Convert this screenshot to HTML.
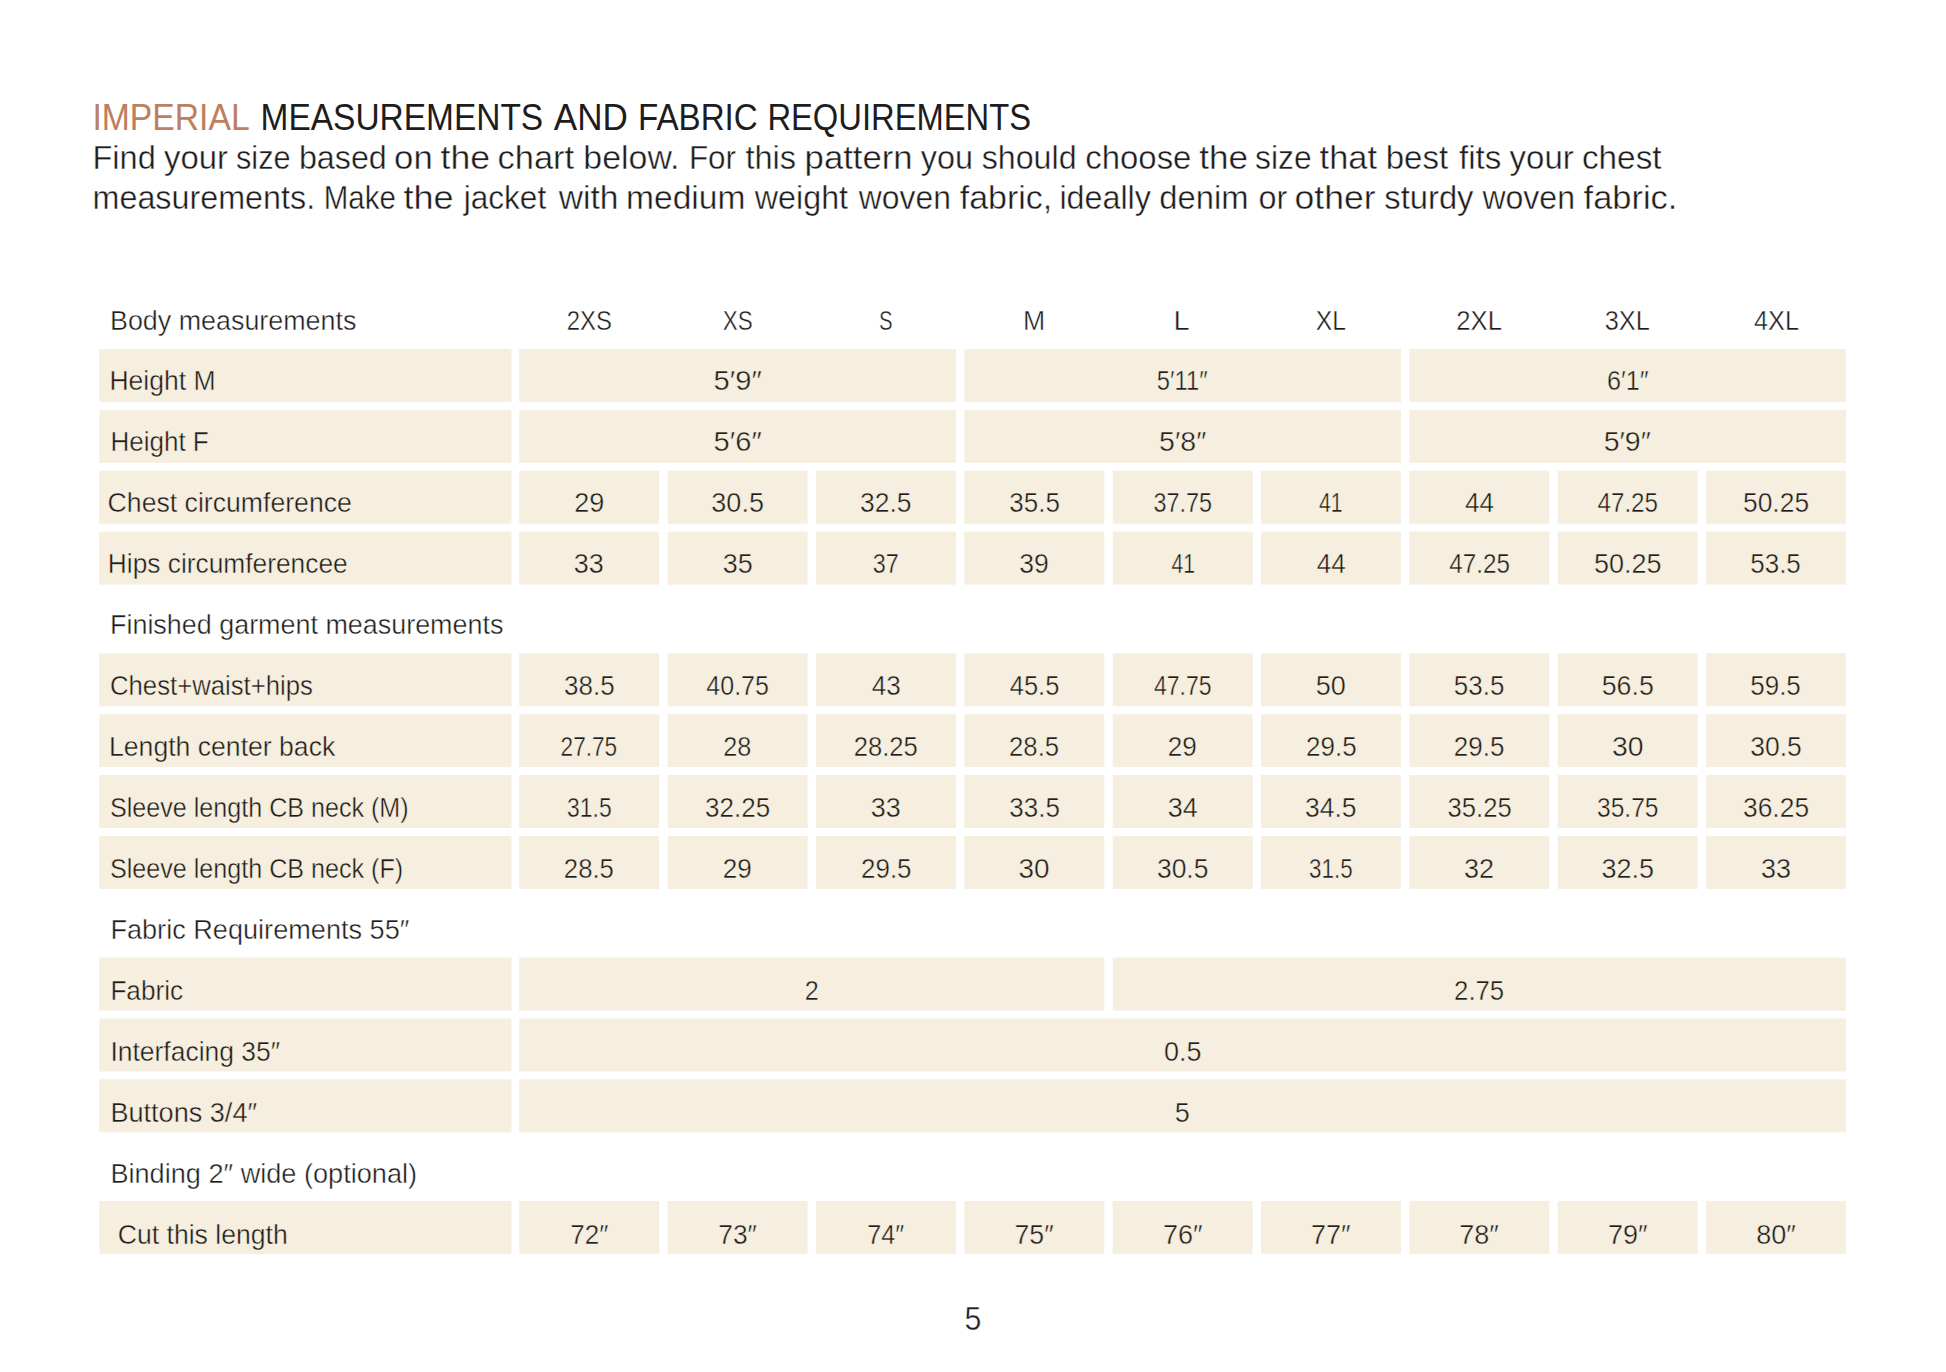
<!DOCTYPE html>
<html><head><meta charset="utf-8"><title>Imperial measurements and fabric requirements</title>
<style>
html,body{margin:0;padding:0;background:#fff;}
body{width:1946px;height:1372px;overflow:hidden;position:relative;}
svg{position:absolute;left:0;top:0;display:block;}
svg text{font-family:'Liberation Sans', Arial, sans-serif;fill:#1E1C1C;}
</style></head><body>
<svg width="1946" height="1372" viewBox="0 0 1946 1372">
<g fill="#F6EEDF">
<rect x="99.30" y="349.00" width="412.10" height="53.00"/>
<rect x="519.30" y="349.00" width="436.63" height="53.00"/>
<rect x="964.33" y="349.00" width="436.63" height="53.00"/>
<rect x="1409.37" y="349.00" width="436.63" height="53.00"/>
<rect x="99.30" y="409.86" width="412.10" height="53.00"/>
<rect x="519.30" y="409.86" width="436.63" height="53.00"/>
<rect x="964.33" y="409.86" width="436.63" height="53.00"/>
<rect x="1409.37" y="409.86" width="436.63" height="53.00"/>
<rect x="99.30" y="470.72" width="412.10" height="53.00"/>
<rect x="519.30" y="470.72" width="139.94" height="53.00"/>
<rect x="667.64" y="470.72" width="139.94" height="53.00"/>
<rect x="815.99" y="470.72" width="139.94" height="53.00"/>
<rect x="964.33" y="470.72" width="139.94" height="53.00"/>
<rect x="1112.68" y="470.72" width="139.94" height="53.00"/>
<rect x="1261.02" y="470.72" width="139.94" height="53.00"/>
<rect x="1409.37" y="470.72" width="139.94" height="53.00"/>
<rect x="1557.71" y="470.72" width="139.94" height="53.00"/>
<rect x="1706.06" y="470.72" width="139.94" height="53.00"/>
<rect x="99.30" y="531.58" width="412.10" height="53.00"/>
<rect x="519.30" y="531.58" width="139.94" height="53.00"/>
<rect x="667.64" y="531.58" width="139.94" height="53.00"/>
<rect x="815.99" y="531.58" width="139.94" height="53.00"/>
<rect x="964.33" y="531.58" width="139.94" height="53.00"/>
<rect x="1112.68" y="531.58" width="139.94" height="53.00"/>
<rect x="1261.02" y="531.58" width="139.94" height="53.00"/>
<rect x="1409.37" y="531.58" width="139.94" height="53.00"/>
<rect x="1557.71" y="531.58" width="139.94" height="53.00"/>
<rect x="1706.06" y="531.58" width="139.94" height="53.00"/>
<rect x="99.30" y="653.30" width="412.10" height="53.00"/>
<rect x="519.30" y="653.30" width="139.94" height="53.00"/>
<rect x="667.64" y="653.30" width="139.94" height="53.00"/>
<rect x="815.99" y="653.30" width="139.94" height="53.00"/>
<rect x="964.33" y="653.30" width="139.94" height="53.00"/>
<rect x="1112.68" y="653.30" width="139.94" height="53.00"/>
<rect x="1261.02" y="653.30" width="139.94" height="53.00"/>
<rect x="1409.37" y="653.30" width="139.94" height="53.00"/>
<rect x="1557.71" y="653.30" width="139.94" height="53.00"/>
<rect x="1706.06" y="653.30" width="139.94" height="53.00"/>
<rect x="99.30" y="714.16" width="412.10" height="53.00"/>
<rect x="519.30" y="714.16" width="139.94" height="53.00"/>
<rect x="667.64" y="714.16" width="139.94" height="53.00"/>
<rect x="815.99" y="714.16" width="139.94" height="53.00"/>
<rect x="964.33" y="714.16" width="139.94" height="53.00"/>
<rect x="1112.68" y="714.16" width="139.94" height="53.00"/>
<rect x="1261.02" y="714.16" width="139.94" height="53.00"/>
<rect x="1409.37" y="714.16" width="139.94" height="53.00"/>
<rect x="1557.71" y="714.16" width="139.94" height="53.00"/>
<rect x="1706.06" y="714.16" width="139.94" height="53.00"/>
<rect x="99.30" y="775.02" width="412.10" height="53.00"/>
<rect x="519.30" y="775.02" width="139.94" height="53.00"/>
<rect x="667.64" y="775.02" width="139.94" height="53.00"/>
<rect x="815.99" y="775.02" width="139.94" height="53.00"/>
<rect x="964.33" y="775.02" width="139.94" height="53.00"/>
<rect x="1112.68" y="775.02" width="139.94" height="53.00"/>
<rect x="1261.02" y="775.02" width="139.94" height="53.00"/>
<rect x="1409.37" y="775.02" width="139.94" height="53.00"/>
<rect x="1557.71" y="775.02" width="139.94" height="53.00"/>
<rect x="1706.06" y="775.02" width="139.94" height="53.00"/>
<rect x="99.30" y="835.88" width="412.10" height="53.00"/>
<rect x="519.30" y="835.88" width="139.94" height="53.00"/>
<rect x="667.64" y="835.88" width="139.94" height="53.00"/>
<rect x="815.99" y="835.88" width="139.94" height="53.00"/>
<rect x="964.33" y="835.88" width="139.94" height="53.00"/>
<rect x="1112.68" y="835.88" width="139.94" height="53.00"/>
<rect x="1261.02" y="835.88" width="139.94" height="53.00"/>
<rect x="1409.37" y="835.88" width="139.94" height="53.00"/>
<rect x="1557.71" y="835.88" width="139.94" height="53.00"/>
<rect x="1706.06" y="835.88" width="139.94" height="53.00"/>
<rect x="99.30" y="957.60" width="412.10" height="53.00"/>
<rect x="519.30" y="957.60" width="584.98" height="53.00"/>
<rect x="1112.68" y="957.60" width="733.32" height="53.00"/>
<rect x="99.30" y="1018.46" width="412.10" height="53.00"/>
<rect x="519.30" y="1018.46" width="1326.70" height="53.00"/>
<rect x="99.30" y="1079.32" width="412.10" height="53.00"/>
<rect x="519.30" y="1079.32" width="1326.70" height="53.00"/>
<rect x="99.30" y="1201.04" width="412.10" height="53.00"/>
<rect x="519.30" y="1201.04" width="139.94" height="53.00"/>
<rect x="667.64" y="1201.04" width="139.94" height="53.00"/>
<rect x="815.99" y="1201.04" width="139.94" height="53.00"/>
<rect x="964.33" y="1201.04" width="139.94" height="53.00"/>
<rect x="1112.68" y="1201.04" width="139.94" height="53.00"/>
<rect x="1261.02" y="1201.04" width="139.94" height="53.00"/>
<rect x="1409.37" y="1201.04" width="139.94" height="53.00"/>
<rect x="1557.71" y="1201.04" width="139.94" height="53.00"/>
<rect x="1706.06" y="1201.04" width="139.94" height="53.00"/>
</g>
<g>
<text x="92.40" y="130.00" font-size="36" textLength="157.25" lengthAdjust="spacingAndGlyphs" style="fill:#BE7E60">IMPERIAL</text>
<text y="130.00" font-size="36"><tspan x="260.60" textLength="282.53" lengthAdjust="spacingAndGlyphs">MEASUREMENTS</tspan> <tspan x="553.80" textLength="74.02" lengthAdjust="spacingAndGlyphs">AND</tspan> <tspan x="638.00" textLength="119.73" lengthAdjust="spacingAndGlyphs">FABRIC</tspan> <tspan x="767.40" textLength="263.63" lengthAdjust="spacingAndGlyphs">REQUIREMENTS</tspan></text>
<text y="169.20" font-size="33" style="stroke:#fff;stroke-width:0.4"><tspan x="92.50" textLength="63.30" lengthAdjust="spacingAndGlyphs">Find</tspan> <tspan x="164.00" textLength="63.90" lengthAdjust="spacingAndGlyphs">your</tspan> <tspan x="236.00" textLength="54.59" lengthAdjust="spacingAndGlyphs">size</tspan> <tspan x="298.90" textLength="87.92" lengthAdjust="spacingAndGlyphs">based</tspan> <tspan x="394.10" textLength="38.62" lengthAdjust="spacingAndGlyphs">on</tspan> <tspan x="440.50" textLength="49.57" lengthAdjust="spacingAndGlyphs">the</tspan> <tspan x="497.50" textLength="76.58" lengthAdjust="spacingAndGlyphs">chart</tspan> <tspan x="583.30" textLength="96.18" lengthAdjust="spacingAndGlyphs">below.</tspan> <tspan x="688.90" textLength="47.20" lengthAdjust="spacingAndGlyphs">For</tspan> <tspan x="745.40" textLength="50.66" lengthAdjust="spacingAndGlyphs">this</tspan> <tspan x="804.60" textLength="108.05" lengthAdjust="spacingAndGlyphs">pattern</tspan> <tspan x="920.80" textLength="52.22" lengthAdjust="spacingAndGlyphs">you</tspan> <tspan x="981.70" textLength="94.85" lengthAdjust="spacingAndGlyphs">should</tspan> <tspan x="1085.30" textLength="106.12" lengthAdjust="spacingAndGlyphs">choose</tspan> <tspan x="1199.30" textLength="48.87" lengthAdjust="spacingAndGlyphs">the</tspan> <tspan x="1255.00" textLength="56.59" lengthAdjust="spacingAndGlyphs">size</tspan> <tspan x="1319.60" textLength="57.35" lengthAdjust="spacingAndGlyphs">that</tspan> <tspan x="1385.70" textLength="62.38" lengthAdjust="spacingAndGlyphs">best</tspan> <tspan x="1459.00" textLength="42.47" lengthAdjust="spacingAndGlyphs">fits</tspan> <tspan x="1509.60" textLength="64.10" lengthAdjust="spacingAndGlyphs">your</tspan> <tspan x="1581.90" textLength="79.67" lengthAdjust="spacingAndGlyphs">chest</tspan></text>
<text y="208.70" font-size="33" style="stroke:#fff;stroke-width:0.4"><tspan x="92.50" textLength="222.64" lengthAdjust="spacingAndGlyphs">measurements.</tspan> <tspan x="323.80" textLength="72.00" lengthAdjust="spacingAndGlyphs">Make</tspan> <tspan x="403.50" textLength="50.18" lengthAdjust="spacingAndGlyphs">the</tspan> <tspan x="463.70" textLength="82.52" lengthAdjust="spacingAndGlyphs">jacket</tspan> <tspan x="558.70" textLength="59.79" lengthAdjust="spacingAndGlyphs">with</tspan> <tspan x="626.00" textLength="119.48" lengthAdjust="spacingAndGlyphs">medium</tspan> <tspan x="754.80" textLength="93.29" lengthAdjust="spacingAndGlyphs">weight</tspan> <tspan x="858.80" textLength="92.09" lengthAdjust="spacingAndGlyphs">woven</tspan> <tspan x="959.80" textLength="92.48" lengthAdjust="spacingAndGlyphs">fabric,</tspan> <tspan x="1059.40" textLength="91.56" lengthAdjust="spacingAndGlyphs">ideally</tspan> <tspan x="1159.30" textLength="89.19" lengthAdjust="spacingAndGlyphs">denim</tspan> <tspan x="1258.50" textLength="28.74" lengthAdjust="spacingAndGlyphs">or</tspan> <tspan x="1294.50" textLength="81.02" lengthAdjust="spacingAndGlyphs">other</tspan> <tspan x="1384.30" textLength="89.18" lengthAdjust="spacingAndGlyphs">sturdy</tspan> <tspan x="1482.40" textLength="92.59" lengthAdjust="spacingAndGlyphs">woven</tspan> <tspan x="1583.60" textLength="93.78" lengthAdjust="spacingAndGlyphs">fabric.</tspan></text>
<text x="964.60" y="1329.50" font-size="33" textLength="16.86" lengthAdjust="spacingAndGlyphs" style="stroke:#fff;stroke-width:0.4">5</text>
<text x="589.36" y="330.20" font-size="27" text-anchor="middle" textLength="45.15" lengthAdjust="spacingAndGlyphs" style="stroke:#fff;stroke-width:0.4">2XS</text>
<text x="737.65" y="330.20" font-size="27" text-anchor="middle" textLength="29.93" lengthAdjust="spacingAndGlyphs" style="stroke:#fff;stroke-width:0.4">XS</text>
<text x="885.78" y="330.20" font-size="27" text-anchor="middle" textLength="13.62" lengthAdjust="spacingAndGlyphs" style="stroke:#fff;stroke-width:0.4">S</text>
<text x="1034.07" y="330.20" font-size="27" text-anchor="middle" textLength="22.20" lengthAdjust="spacingAndGlyphs" style="stroke:#fff;stroke-width:0.4">M</text>
<text x="1181.70" y="330.20" font-size="27" text-anchor="middle" textLength="16.13" lengthAdjust="spacingAndGlyphs" style="stroke:#fff;stroke-width:0.4">L</text>
<text x="1330.83" y="330.20" font-size="27" text-anchor="middle" textLength="30.23" lengthAdjust="spacingAndGlyphs" style="stroke:#fff;stroke-width:0.4">XL</text>
<text x="1479.12" y="330.20" font-size="27" text-anchor="middle" textLength="45.65" lengthAdjust="spacingAndGlyphs" style="stroke:#fff;stroke-width:0.4">2XL</text>
<text x="1627.25" y="330.20" font-size="27" text-anchor="middle" textLength="45.25" lengthAdjust="spacingAndGlyphs" style="stroke:#fff;stroke-width:0.4">3XL</text>
<text x="1776.54" y="330.20" font-size="27" text-anchor="middle" textLength="44.95" lengthAdjust="spacingAndGlyphs" style="stroke:#fff;stroke-width:0.4">4XL</text>
<text x="110.00" y="330.20" font-size="27" textLength="246.42" lengthAdjust="spacingAndGlyphs" style="stroke:#fff;stroke-width:0.4">Body measurements</text>
<text x="737.65" y="390.00" font-size="27" text-anchor="middle" textLength="48.16" lengthAdjust="spacingAndGlyphs" style="stroke:#F6EEDF;stroke-width:0.4">5′9″</text>
<text x="1182.20" y="390.00" font-size="27" text-anchor="middle" textLength="50.67" lengthAdjust="spacingAndGlyphs" style="stroke:#F6EEDF;stroke-width:0.4">5′11″</text>
<text x="1627.75" y="390.00" font-size="27" text-anchor="middle" textLength="41.66" lengthAdjust="spacingAndGlyphs" style="stroke:#F6EEDF;stroke-width:0.4">6′1″</text>
<text x="109.40" y="389.50" font-size="27" textLength="106.15" lengthAdjust="spacingAndGlyphs" style="stroke:#F6EEDF;stroke-width:0.4">Height M</text>
<text x="737.65" y="451.00" font-size="27" text-anchor="middle" textLength="48.16" lengthAdjust="spacingAndGlyphs" style="stroke:#F6EEDF;stroke-width:0.4">5′6″</text>
<text x="1182.70" y="451.00" font-size="27" text-anchor="middle" textLength="47.16" lengthAdjust="spacingAndGlyphs" style="stroke:#F6EEDF;stroke-width:0.4">5′8″</text>
<text x="1627.25" y="451.00" font-size="27" text-anchor="middle" textLength="47.16" lengthAdjust="spacingAndGlyphs" style="stroke:#F6EEDF;stroke-width:0.4">5′9″</text>
<text x="110.40" y="450.50" font-size="27" textLength="98.35" lengthAdjust="spacingAndGlyphs" style="stroke:#F6EEDF;stroke-width:0.4">Height F</text>
<text x="589.36" y="512.00" font-size="27" text-anchor="middle" textLength="30.05" lengthAdjust="spacingAndGlyphs" style="stroke:#F6EEDF;stroke-width:0.4">29</text>
<text x="737.65" y="512.00" font-size="27" text-anchor="middle" textLength="52.56" lengthAdjust="spacingAndGlyphs" style="stroke:#F6EEDF;stroke-width:0.4">30.5</text>
<text x="885.78" y="512.00" font-size="27" text-anchor="middle" textLength="51.56" lengthAdjust="spacingAndGlyphs" style="stroke:#F6EEDF;stroke-width:0.4">32.5</text>
<text x="1034.57" y="512.00" font-size="27" text-anchor="middle" textLength="50.56" lengthAdjust="spacingAndGlyphs" style="stroke:#F6EEDF;stroke-width:0.4">35.5</text>
<text x="1182.70" y="512.00" font-size="27" text-anchor="middle" textLength="58.58" lengthAdjust="spacingAndGlyphs" style="stroke:#F6EEDF;stroke-width:0.4">37.75</text>
<text x="1330.83" y="512.00" font-size="27" text-anchor="middle" textLength="23.55" lengthAdjust="spacingAndGlyphs" style="stroke:#F6EEDF;stroke-width:0.4">41</text>
<text x="1479.62" y="512.00" font-size="27" text-anchor="middle" textLength="29.05" lengthAdjust="spacingAndGlyphs" style="stroke:#F6EEDF;stroke-width:0.4">44</text>
<text x="1627.75" y="512.00" font-size="27" text-anchor="middle" textLength="60.58" lengthAdjust="spacingAndGlyphs" style="stroke:#F6EEDF;stroke-width:0.4">47.25</text>
<text x="1776.04" y="512.00" font-size="27" text-anchor="middle" textLength="66.08" lengthAdjust="spacingAndGlyphs" style="stroke:#F6EEDF;stroke-width:0.4">50.25</text>
<text x="107.60" y="511.50" font-size="27" textLength="244.29" lengthAdjust="spacingAndGlyphs" style="stroke:#F6EEDF;stroke-width:0.4">Chest circumference</text>
<text x="588.86" y="573.00" font-size="27" text-anchor="middle" textLength="30.05" lengthAdjust="spacingAndGlyphs" style="stroke:#F6EEDF;stroke-width:0.4">33</text>
<text x="737.65" y="573.00" font-size="27" text-anchor="middle" textLength="30.05" lengthAdjust="spacingAndGlyphs" style="stroke:#F6EEDF;stroke-width:0.4">35</text>
<text x="885.78" y="573.00" font-size="27" text-anchor="middle" textLength="26.05" lengthAdjust="spacingAndGlyphs" style="stroke:#F6EEDF;stroke-width:0.4">37</text>
<text x="1034.07" y="573.00" font-size="27" text-anchor="middle" textLength="29.55" lengthAdjust="spacingAndGlyphs" style="stroke:#F6EEDF;stroke-width:0.4">39</text>
<text x="1183.20" y="573.00" font-size="27" text-anchor="middle" textLength="23.55" lengthAdjust="spacingAndGlyphs" style="stroke:#F6EEDF;stroke-width:0.4">41</text>
<text x="1331.33" y="573.00" font-size="27" text-anchor="middle" textLength="29.05" lengthAdjust="spacingAndGlyphs" style="stroke:#F6EEDF;stroke-width:0.4">44</text>
<text x="1479.62" y="573.00" font-size="27" text-anchor="middle" textLength="60.58" lengthAdjust="spacingAndGlyphs" style="stroke:#F6EEDF;stroke-width:0.4">47.25</text>
<text x="1627.75" y="573.00" font-size="27" text-anchor="middle" textLength="67.58" lengthAdjust="spacingAndGlyphs" style="stroke:#F6EEDF;stroke-width:0.4">50.25</text>
<text x="1775.54" y="573.00" font-size="27" text-anchor="middle" textLength="50.56" lengthAdjust="spacingAndGlyphs" style="stroke:#F6EEDF;stroke-width:0.4">53.5</text>
<text x="107.80" y="572.50" font-size="27" textLength="239.89" lengthAdjust="spacingAndGlyphs" style="stroke:#F6EEDF;stroke-width:0.4">Hips circumferencee</text>
<text x="110.00" y="633.50" font-size="27" textLength="393.39" lengthAdjust="spacingAndGlyphs" style="stroke:#fff;stroke-width:0.4">Finished garment measurements</text>
<text x="589.36" y="695.00" font-size="27" text-anchor="middle" textLength="50.56" lengthAdjust="spacingAndGlyphs" style="stroke:#F6EEDF;stroke-width:0.4">38.5</text>
<text x="737.65" y="695.00" font-size="27" text-anchor="middle" textLength="62.58" lengthAdjust="spacingAndGlyphs" style="stroke:#F6EEDF;stroke-width:0.4">40.75</text>
<text x="886.28" y="695.00" font-size="27" text-anchor="middle" textLength="29.05" lengthAdjust="spacingAndGlyphs" style="stroke:#F6EEDF;stroke-width:0.4">43</text>
<text x="1034.57" y="695.00" font-size="27" text-anchor="middle" textLength="49.56" lengthAdjust="spacingAndGlyphs" style="stroke:#F6EEDF;stroke-width:0.4">45.5</text>
<text x="1182.70" y="695.00" font-size="27" text-anchor="middle" textLength="57.58" lengthAdjust="spacingAndGlyphs" style="stroke:#F6EEDF;stroke-width:0.4">47.75</text>
<text x="1330.83" y="695.00" font-size="27" text-anchor="middle" textLength="30.05" lengthAdjust="spacingAndGlyphs" style="stroke:#F6EEDF;stroke-width:0.4">50</text>
<text x="1479.12" y="695.00" font-size="27" text-anchor="middle" textLength="50.56" lengthAdjust="spacingAndGlyphs" style="stroke:#F6EEDF;stroke-width:0.4">53.5</text>
<text x="1627.75" y="695.00" font-size="27" text-anchor="middle" textLength="52.06" lengthAdjust="spacingAndGlyphs" style="stroke:#F6EEDF;stroke-width:0.4">56.5</text>
<text x="1775.54" y="695.00" font-size="27" text-anchor="middle" textLength="50.56" lengthAdjust="spacingAndGlyphs" style="stroke:#F6EEDF;stroke-width:0.4">59.5</text>
<text x="110.00" y="694.50" font-size="27" textLength="202.92" lengthAdjust="spacingAndGlyphs" style="stroke:#F6EEDF;stroke-width:0.4">Chest+waist+hips</text>
<text x="588.86" y="756.00" font-size="27" text-anchor="middle" textLength="56.58" lengthAdjust="spacingAndGlyphs" style="stroke:#F6EEDF;stroke-width:0.4">27.75</text>
<text x="737.15" y="756.00" font-size="27" text-anchor="middle" textLength="28.05" lengthAdjust="spacingAndGlyphs" style="stroke:#F6EEDF;stroke-width:0.4">28</text>
<text x="885.78" y="756.00" font-size="27" text-anchor="middle" textLength="64.08" lengthAdjust="spacingAndGlyphs" style="stroke:#F6EEDF;stroke-width:0.4">28.25</text>
<text x="1034.07" y="756.00" font-size="27" text-anchor="middle" textLength="50.06" lengthAdjust="spacingAndGlyphs" style="stroke:#F6EEDF;stroke-width:0.4">28.5</text>
<text x="1182.20" y="756.00" font-size="27" text-anchor="middle" textLength="29.05" lengthAdjust="spacingAndGlyphs" style="stroke:#F6EEDF;stroke-width:0.4">29</text>
<text x="1331.33" y="756.00" font-size="27" text-anchor="middle" textLength="50.56" lengthAdjust="spacingAndGlyphs" style="stroke:#F6EEDF;stroke-width:0.4">29.5</text>
<text x="1479.12" y="756.00" font-size="27" text-anchor="middle" textLength="50.56" lengthAdjust="spacingAndGlyphs" style="stroke:#F6EEDF;stroke-width:0.4">29.5</text>
<text x="1627.75" y="756.00" font-size="27" text-anchor="middle" textLength="31.55" lengthAdjust="spacingAndGlyphs" style="stroke:#F6EEDF;stroke-width:0.4">30</text>
<text x="1776.04" y="756.00" font-size="27" text-anchor="middle" textLength="51.56" lengthAdjust="spacingAndGlyphs" style="stroke:#F6EEDF;stroke-width:0.4">30.5</text>
<text x="109.00" y="755.50" font-size="27" textLength="226.27" lengthAdjust="spacingAndGlyphs" style="stroke:#F6EEDF;stroke-width:0.4">Length center back</text>
<text x="589.36" y="817.00" font-size="27" text-anchor="middle" textLength="44.56" lengthAdjust="spacingAndGlyphs" style="stroke:#F6EEDF;stroke-width:0.4">31.5</text>
<text x="737.65" y="817.00" font-size="27" text-anchor="middle" textLength="65.08" lengthAdjust="spacingAndGlyphs" style="stroke:#F6EEDF;stroke-width:0.4">32.25</text>
<text x="885.78" y="817.00" font-size="27" text-anchor="middle" textLength="30.05" lengthAdjust="spacingAndGlyphs" style="stroke:#F6EEDF;stroke-width:0.4">33</text>
<text x="1034.57" y="817.00" font-size="27" text-anchor="middle" textLength="50.56" lengthAdjust="spacingAndGlyphs" style="stroke:#F6EEDF;stroke-width:0.4">33.5</text>
<text x="1182.70" y="817.00" font-size="27" text-anchor="middle" textLength="30.05" lengthAdjust="spacingAndGlyphs" style="stroke:#F6EEDF;stroke-width:0.4">34</text>
<text x="1330.83" y="817.00" font-size="27" text-anchor="middle" textLength="51.56" lengthAdjust="spacingAndGlyphs" style="stroke:#F6EEDF;stroke-width:0.4">34.5</text>
<text x="1479.62" y="817.00" font-size="27" text-anchor="middle" textLength="64.08" lengthAdjust="spacingAndGlyphs" style="stroke:#F6EEDF;stroke-width:0.4">35.25</text>
<text x="1627.75" y="817.00" font-size="27" text-anchor="middle" textLength="61.58" lengthAdjust="spacingAndGlyphs" style="stroke:#F6EEDF;stroke-width:0.4">35.75</text>
<text x="1776.04" y="817.00" font-size="27" text-anchor="middle" textLength="66.08" lengthAdjust="spacingAndGlyphs" style="stroke:#F6EEDF;stroke-width:0.4">36.25</text>
<text x="110.00" y="816.50" font-size="27" textLength="298.64" lengthAdjust="spacingAndGlyphs" style="stroke:#F6EEDF;stroke-width:0.4">Sleeve length CB neck (M)</text>
<text x="588.86" y="878.00" font-size="27" text-anchor="middle" textLength="50.06" lengthAdjust="spacingAndGlyphs" style="stroke:#F6EEDF;stroke-width:0.4">28.5</text>
<text x="737.15" y="878.00" font-size="27" text-anchor="middle" textLength="29.05" lengthAdjust="spacingAndGlyphs" style="stroke:#F6EEDF;stroke-width:0.4">29</text>
<text x="886.28" y="878.00" font-size="27" text-anchor="middle" textLength="50.56" lengthAdjust="spacingAndGlyphs" style="stroke:#F6EEDF;stroke-width:0.4">29.5</text>
<text x="1034.07" y="878.00" font-size="27" text-anchor="middle" textLength="31.05" lengthAdjust="spacingAndGlyphs" style="stroke:#F6EEDF;stroke-width:0.4">30</text>
<text x="1182.70" y="878.00" font-size="27" text-anchor="middle" textLength="51.56" lengthAdjust="spacingAndGlyphs" style="stroke:#F6EEDF;stroke-width:0.4">30.5</text>
<text x="1330.83" y="878.00" font-size="27" text-anchor="middle" textLength="43.56" lengthAdjust="spacingAndGlyphs" style="stroke:#F6EEDF;stroke-width:0.4">31.5</text>
<text x="1479.12" y="878.00" font-size="27" text-anchor="middle" textLength="30.05" lengthAdjust="spacingAndGlyphs" style="stroke:#F6EEDF;stroke-width:0.4">32</text>
<text x="1627.75" y="878.00" font-size="27" text-anchor="middle" textLength="52.56" lengthAdjust="spacingAndGlyphs" style="stroke:#F6EEDF;stroke-width:0.4">32.5</text>
<text x="1776.04" y="878.00" font-size="27" text-anchor="middle" textLength="30.05" lengthAdjust="spacingAndGlyphs" style="stroke:#F6EEDF;stroke-width:0.4">33</text>
<text x="110.00" y="877.50" font-size="27" textLength="293.14" lengthAdjust="spacingAndGlyphs" style="stroke:#F6EEDF;stroke-width:0.4">Sleeve length CB neck (F)</text>
<text x="110.40" y="938.50" font-size="27" textLength="298.99" lengthAdjust="spacingAndGlyphs" style="stroke:#fff;stroke-width:0.4">Fabric Requirements 55″</text>
<text x="811.72" y="1000.00" font-size="27" text-anchor="middle" textLength="14.03" lengthAdjust="spacingAndGlyphs" style="stroke:#F6EEDF;stroke-width:0.4">2</text>
<text x="1479.12" y="1000.00" font-size="27" text-anchor="middle" textLength="50.06" lengthAdjust="spacingAndGlyphs" style="stroke:#F6EEDF;stroke-width:0.4">2.75</text>
<text x="110.40" y="999.50" font-size="27" textLength="72.62" lengthAdjust="spacingAndGlyphs" style="stroke:#F6EEDF;stroke-width:0.4">Fabric</text>
<text x="1182.70" y="1061.00" font-size="27" text-anchor="middle" textLength="37.55" lengthAdjust="spacingAndGlyphs" style="stroke:#F6EEDF;stroke-width:0.4">0.5</text>
<text x="110.40" y="1060.50" font-size="27" textLength="169.77" lengthAdjust="spacingAndGlyphs" style="stroke:#F6EEDF;stroke-width:0.4">Interfacing 35″</text>
<text x="1182.20" y="1122.00" font-size="27" text-anchor="middle" textLength="15.03" lengthAdjust="spacingAndGlyphs" style="stroke:#F6EEDF;stroke-width:0.4">5</text>
<text x="110.40" y="1121.50" font-size="27" textLength="146.66" lengthAdjust="spacingAndGlyphs" style="stroke:#F6EEDF;stroke-width:0.4">Buttons 3/4″</text>
<text x="110.40" y="1182.50" font-size="27" textLength="306.65" lengthAdjust="spacingAndGlyphs" style="stroke:#fff;stroke-width:0.4">Binding 2″ wide (optional)</text>
<text x="589.36" y="1244.00" font-size="27" text-anchor="middle" textLength="38.09" lengthAdjust="spacingAndGlyphs" style="stroke:#F6EEDF;stroke-width:0.4">72″</text>
<text x="737.65" y="1244.00" font-size="27" text-anchor="middle" textLength="38.59" lengthAdjust="spacingAndGlyphs" style="stroke:#F6EEDF;stroke-width:0.4">73″</text>
<text x="885.78" y="1244.00" font-size="27" text-anchor="middle" textLength="37.09" lengthAdjust="spacingAndGlyphs" style="stroke:#F6EEDF;stroke-width:0.4">74″</text>
<text x="1034.07" y="1244.00" font-size="27" text-anchor="middle" textLength="39.09" lengthAdjust="spacingAndGlyphs" style="stroke:#F6EEDF;stroke-width:0.4">75″</text>
<text x="1182.70" y="1244.00" font-size="27" text-anchor="middle" style="stroke:#F6EEDF;stroke-width:0.4">76″</text>
<text x="1330.83" y="1244.00" font-size="27" text-anchor="middle" style="stroke:#F6EEDF;stroke-width:0.4">77″</text>
<text x="1479.12" y="1244.00" font-size="27" text-anchor="middle" style="stroke:#F6EEDF;stroke-width:0.4">78″</text>
<text x="1627.75" y="1244.00" font-size="27" text-anchor="middle" style="stroke:#F6EEDF;stroke-width:0.4">79″</text>
<text x="1776.04" y="1244.00" font-size="27" text-anchor="middle" style="stroke:#F6EEDF;stroke-width:0.4">80″</text>
<text x="117.80" y="1243.50" font-size="27" textLength="169.91" lengthAdjust="spacingAndGlyphs" style="stroke:#F6EEDF;stroke-width:0.4">Cut this length</text>
</g>
</svg>
</body></html>
